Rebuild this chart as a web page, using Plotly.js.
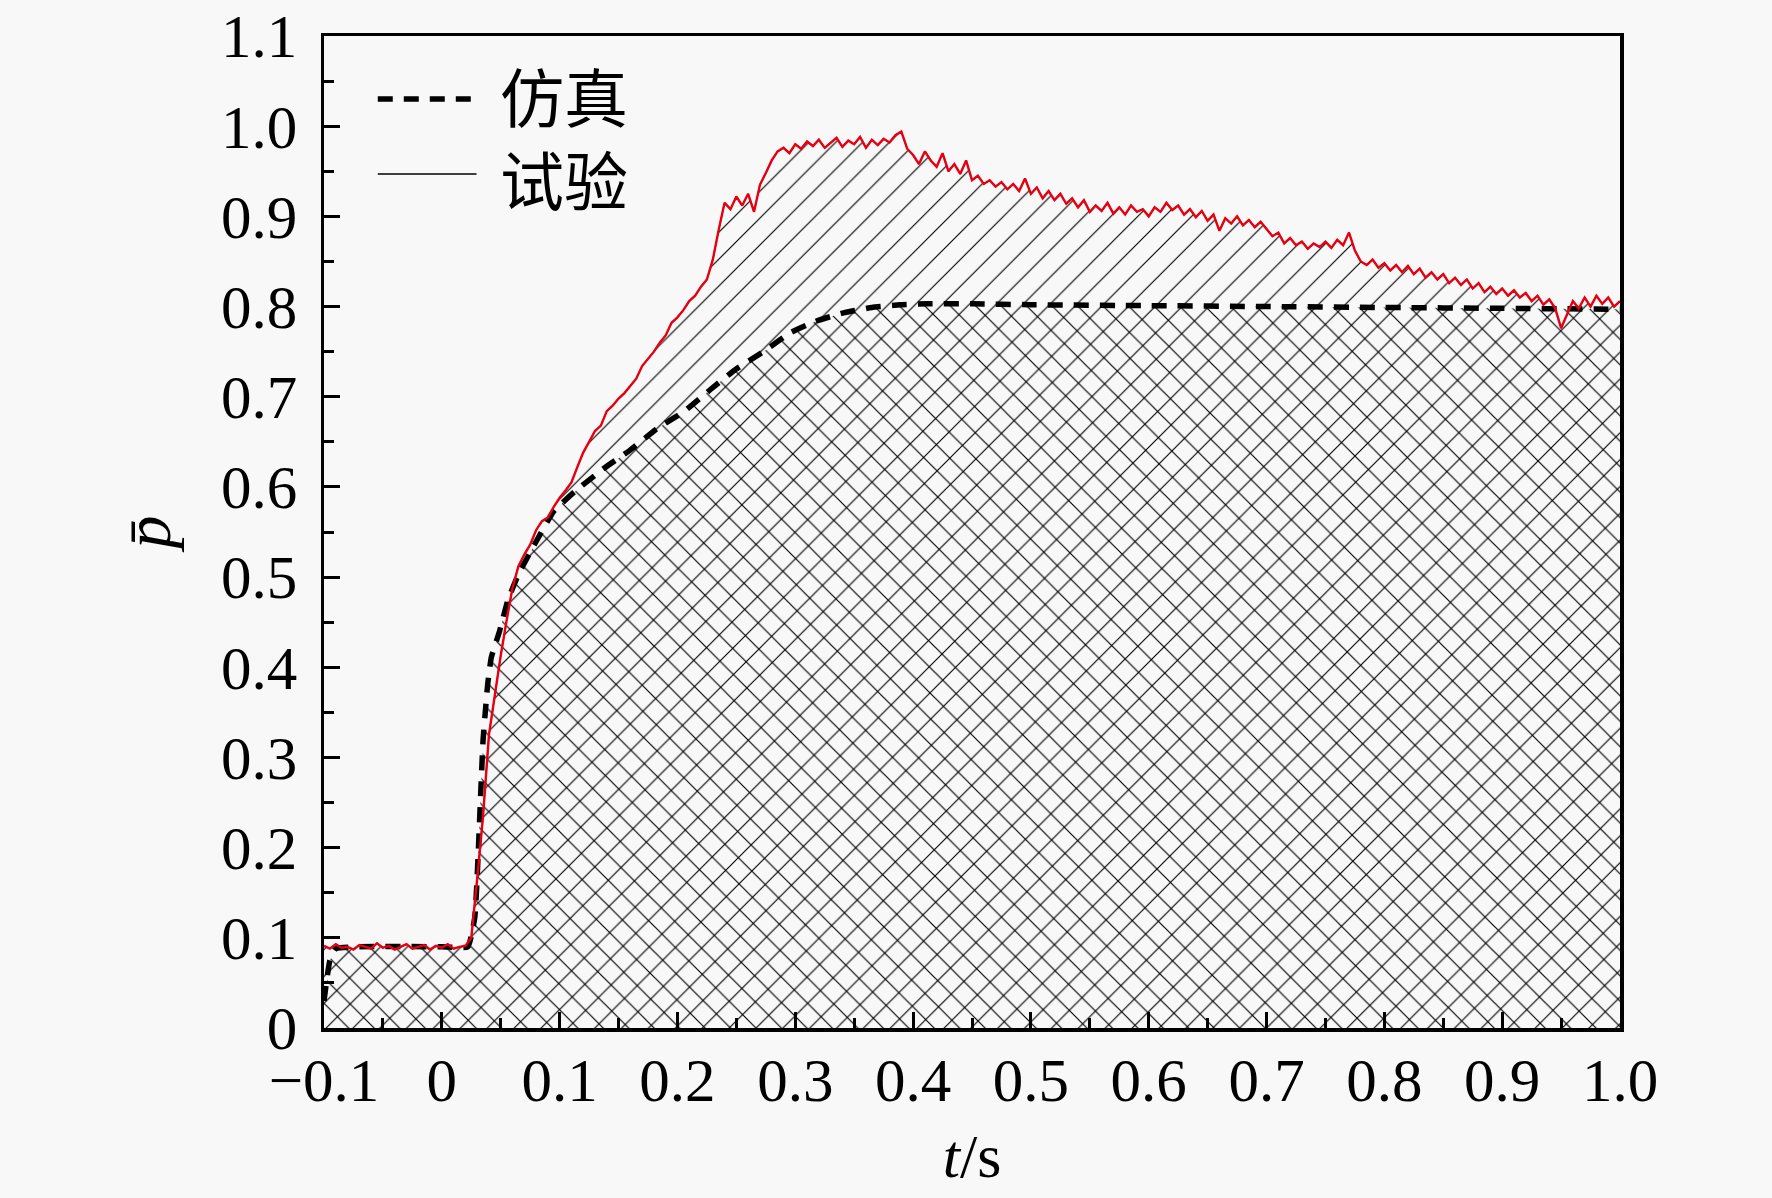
<!DOCTYPE html>
<html>
<head>
<meta charset="utf-8">
<script src="https://cdn.plot.ly/plotly-3.0.1.min.js"></script>
<style>
    body { margin: 0; background: #f8f8f8; }
</style>
</head>
<body>
<div id="chart"></div>
<script>
// 仿真: simulated curve (t in s, p normalised)
let simT = [-0.1, -0.095, -0.09, 0.0, 0.022, 0.028, 0.031, 0.033, 0.035, 0.037, 0.039, 0.042, 0.049, 0.056, 0.065, 0.079, 0.095,
    0.113, 0.138, 0.159, 0.182, 0.206, 0.228, 0.249, 0.273, 0.296, 0.318, 0.341, 0.365, 0.389, 0.412, 0.45, 0.5, 0.6, 0.7, 0.8, 0.9, 1.0]
let simP = [0.03, 0.075, 0.088, 0.09, 0.09, 0.123, 0.197, 0.26, 0.319, 0.352, 0.382, 0.411, 0.44, 0.474, 0.503, 0.537, 0.573,
    0.595, 0.621, 0.64, 0.664, 0.684, 0.708, 0.73, 0.75, 0.771, 0.784, 0.793, 0.799, 0.802, 0.803, 0.803, 0.802, 0.801, 0.8, 0.799, 0.798, 0.797]

// 试验: measured curve, sampled every 0.005 s from t = -0.1
let expStart = -0.1
let expStep = 0.005
let expP = [
    0.091, 0.088, 0.093, 0.089, 0.090, 0.087, 0.092, 0.090, 0.088, 0.094,
    0.089, 0.091, 0.087, 0.090, 0.093, 0.088, 0.090, 0.092, 0.087, 0.091,
    0.089, 0.093, 0.088, 0.090, 0.091, 0.100, 0.165, 0.235, 0.325, 0.372,
    0.413, 0.452, 0.488, 0.512, 0.525, 0.536, 0.552, 0.562, 0.566, 0.578,
    0.588, 0.596, 0.605, 0.622, 0.638, 0.650, 0.662, 0.668, 0.684, 0.690,
    0.698, 0.704, 0.712, 0.720, 0.734, 0.742, 0.750, 0.760, 0.768, 0.782,
    0.788, 0.796, 0.806, 0.812, 0.822, 0.830, 0.852, 0.885, 0.915, 0.908,
    0.922, 0.912, 0.925, 0.905, 0.935, 0.948, 0.962, 0.972, 0.976, 0.970,
    0.980, 0.975, 0.983, 0.978, 0.985, 0.976, 0.982, 0.987, 0.977, 0.984,
    0.980, 0.988, 0.976, 0.985, 0.979, 0.986, 0.982, 0.990, 0.994, 0.975,
    0.968, 0.958, 0.972, 0.962, 0.955, 0.970, 0.950, 0.958, 0.947, 0.962,
    0.940, 0.945, 0.936, 0.940, 0.933, 0.938, 0.930, 0.936, 0.928, 0.942,
    0.925, 0.932, 0.920, 0.928, 0.918, 0.925, 0.914, 0.920, 0.910, 0.918,
    0.905, 0.912, 0.906, 0.915, 0.903, 0.910, 0.902, 0.912, 0.905, 0.908,
    0.900, 0.910, 0.905, 0.915, 0.907, 0.912, 0.902, 0.908, 0.899, 0.906,
    0.895, 0.902, 0.884, 0.898, 0.892, 0.900, 0.890, 0.896, 0.888, 0.894,
    0.886, 0.878, 0.882, 0.870, 0.876, 0.868, 0.872, 0.864, 0.870, 0.866,
    0.872, 0.865, 0.874, 0.868, 0.882, 0.862, 0.850, 0.846, 0.852, 0.843,
    0.848, 0.840, 0.846, 0.838, 0.845, 0.836, 0.842, 0.832, 0.838, 0.830,
    0.836, 0.826, 0.832, 0.824, 0.830, 0.820, 0.826, 0.816, 0.822, 0.814,
    0.820, 0.812, 0.818, 0.810, 0.815, 0.806, 0.812, 0.802, 0.808, 0.798,
    0.776, 0.792, 0.806, 0.798, 0.810, 0.800, 0.812, 0.803, 0.810, 0.800,
    0.806
]

let xTicks = [-0.1, 0, 0.1, 0.2, 0.3, 0.4, 0.5, 0.6, 0.7, 0.8, 0.9, 1.0]
let xTickText = ["\u22120.1", "0", "0.1", "0.2", "0.3", "0.4", "0.5", "0.6", "0.7", "0.8", "0.9", "1.0"]
let yTicks = [0, 0.1, 0.2, 0.3, 0.4, 0.5, 0.6, 0.7, 0.8, 0.9, 1.0, 1.1]
let yTickText = ["0", "0.1", "0.2", "0.3", "0.4", "0.5", "0.6", "0.7", "0.8", "0.9", "1.0", "1.1"]

let legendNames = ["仿真", "试验"]

let serif = "Liberation Serif, Times New Roman, serif"
let cjk = "Noto Sans CJK SC, sans-serif"

let hatchUp = {shape: "/", size: 19, solidity: 0.06, fgcolor: "#000", bgcolor: "rgba(0,0,0,0)", fgopacity: 1}
let hatchDown = {shape: "\\", size: 18, solidity: 0.065, fgcolor: "#000", bgcolor: "rgba(0,0,0,0)", fgopacity: 1}

let traces = [
    {
        x0: expStart, dx: expStep, y: expP,
        type: "scatter", mode: "none", fill: "tozeroy",
        fillcolor: "rgba(0,0,0,0)", fillpattern: hatchUp,
        showlegend: false, hoverinfo: "skip"
    },
    {
        x: simT, y: simP,
        type: "scatter", mode: "none", fill: "tozeroy",
        fillcolor: "rgba(0,0,0,0)", fillpattern: hatchDown,
        showlegend: false, hoverinfo: "skip"
    },
    {
        x: simT, y: simP, name: legendNames[0],
        type: "scatter", mode: "lines",
        line: {color: "#000", width: 5.5, dash: "15px,11px", shape: "spline", smoothing: 0.4},
        showlegend: false
    },
    {
        x0: expStart, dx: expStep, y: expP, name: legendNames[1],
        type: "scatter", mode: "lines",
        line: {color: "#000", width: 1.2},
        showlegend: false
    },
    {
        x0: expStart, dx: expStep, y: expP,
        type: "scatter", mode: "lines",
        line: {color: "#e60012", width: 2.4},
        showlegend: false
    }
]

let axisCommon = {
    showline: true, linecolor: "#000", linewidth: 3.5, mirror: true,
    showgrid: false, zeroline: false,
    ticks: "inside", ticklen: 16, tickwidth: 3, tickcolor: "#000",
    tickmode: "array",
    tickfont: {family: serif, size: 61, color: "#000"},
    minor: {ticks: "inside", ticklen: 10, tickwidth: 3, tickcolor: "#000", dtick: 0.05, showgrid: false}
}

let layout = {
    width: 1772,
    height: 1198,
    margin: {l: 324, r: 152, t: 36, b: 170},
    paper_bgcolor: "#f8f8f8",
    plot_bgcolor: "#f8f8f8",
    showlegend: false,
    xaxis: Object.assign({}, axisCommon, {
        range: [-0.1, 1.0],
        tickvals: xTicks, ticktext: xTickText,
        ticklabelstandoff: -4,
        minor: Object.assign({}, axisCommon.minor, {tick0: -0.05}),
        title: {text: "<i>t</i>/s", font: {family: serif, size: 62, color: "#000"}, standoff: 22}
    }),
    yaxis: Object.assign({}, axisCommon, {
        range: [0, 1.1],
        tickvals: yTicks, ticktext: yTickText,
        ticklabelstandoff: 11,
        minor: Object.assign({}, axisCommon.minor, {tick0: 0.05}),
        title: {text: "<i>p\u0304</i>", font: {family: serif, size: 66, color: "#000"}, standoff: 30}
    }),
    // legend drawn by hand so the line samples keep their long length
    shapes: [
        {type: "line", xref: "paper", yref: "paper", x0: 0.0415, x1: 0.1177, y0: 0.9366, y1: 0.9366,
            line: {color: "#000", width: 5.5, dash: "15px,11px"}},
        {type: "line", xref: "paper", yref: "paper", x0: 0.0415, x1: 0.1177, y0: 0.861, y1: 0.861,
            line: {color: "#000", width: 1.5}}
    ],
    annotations: [
        {xref: "paper", yref: "paper", x: 0.1346, y: 0.8994, xanchor: "left", yanchor: "middle", align: "left",
            text: legendNames[0] + "<br>" + legendNames[1], showarrow: false,
            font: {family: cjk, size: 64, color: "#000"}}
    ]
}

Plotly.newPlot("chart", traces, layout, {staticPlot: true, displayModeBar: false})
</script>
</body>
</html>
